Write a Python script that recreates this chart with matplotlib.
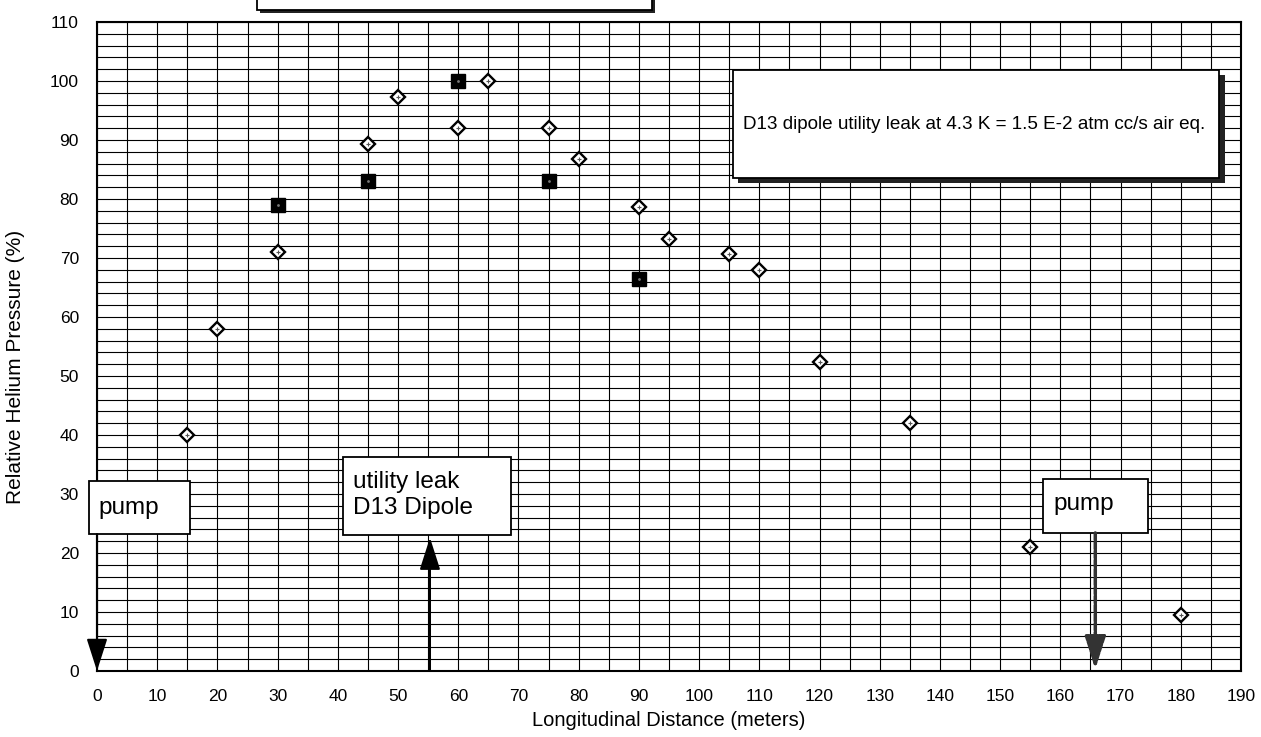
import matplotlib
matplotlib.use("Agg")
import matplotlib.pyplot as plt
import numpy as np
from matplotlib.patches import Rectangle

plt.rcParams['font.family'] = ['Liberation Sans', 'DejaVu Sans']

# ---- data ----
diamond_x = [15, 20, 30, 45, 50, 60, 65, 75, 80, 90, 95, 105, 110, 120, 135, 155, 180]
diamond_y = [40, 58, 71, 89.3, 97.3, 92, 100, 92, 86.7, 78.7, 73.3, 70.7, 68, 52.3, 42, 21, 9.5]
square_x = [30, 45, 60, 75, 90]
square_y = [79, 83, 100, 83, 66.5]

x_ticks = list(range(0, 191, 10))
y_ticks = list(range(0, 111, 10))
x_label = "Longitudinal Distance (meters)"
y_label = "Relative Helium Pressure (%)"
note_text = "D13 dipole utility leak at 4.3 K = 1.5 E-2 atm cc/s air eq."
pump_left_text = "pump"
pump_right_text = "pump"
leak_text = "utility leak\nD13 Dipole"

W, H = 1261, 737
fig = plt.figure(figsize=(W / 100, H / 100), dpi=100)
ax = fig.add_axes([97 / W, 1 - 671 / H, (1241 - 97) / W, (671 - 22) / H])

ax.set_xlim(0, 190)
ax.set_ylim(0, 110)
ax.set_xticks(x_ticks)
ax.set_yticks(y_ticks)
ax.set_xticks(np.arange(0, 191, 5), minor=True)
ax.set_yticks(np.arange(0, 111, 2), minor=True)
ax.grid(which='both', color='black', linewidth=0.8, zorder=0)
ax.set_axisbelow(True)
ax.tick_params(which='both', length=0)
ax.tick_params(which='major', labelsize=12.5, pad=13)
for s in ax.spines.values():
    s.set_linewidth(1.5)
    s.set_color('black')

ax.set_xlabel(x_label, fontsize=14.5, labelpad=5)
ax.set_ylabel(y_label, fontsize=15)
ax.yaxis.set_label_coords(-0.0625, 0.468)

# markers
ax.plot(diamond_x, diamond_y, linestyle='none', marker='D', markersize=7,
        markerfacecolor='white', markeredgecolor='black', markeredgewidth=1.7, zorder=5, clip_on=False)
ax.plot(diamond_x, diamond_y, linestyle='none', marker='+', markersize=3,
        color='#555555', markeredgewidth=0.8, zorder=6, clip_on=False)
ax.plot(square_x, square_y, linestyle='none', marker='s', markersize=9.5,
        markerfacecolor='black', markeredgecolor='black', zorder=5)
ax.plot(square_x, square_y, linestyle='none', marker='.', markersize=2,
        color='#777777', zorder=6)


def box_data(x0, y0, x1, y1, shadow=False):
    if shadow:
        ax.add_patch(Rectangle((x0 + 0.9, y0 - 0.9), x1 - x0, y1 - y0, facecolor='#222222',
                               edgecolor='none', zorder=7, clip_on=False))
    ax.add_patch(Rectangle((x0, y0), x1 - x0, y1 - y0, facecolor='white',
                           edgecolor='black', linewidth=1.3, zorder=8, clip_on=False))


arrow_style = '-|>,head_length=1.0,head_width=0.32'

# left pump
box_data(-1.3, 23.2, 15.4, 32.2)
ax.text(0.2, 27.6, pump_left_text, fontsize=17.5, ha='left', va='center', zorder=9)
ax.annotate('', xy=(0, 0), xytext=(0, 23.2), annotation_clip=False,
            arrowprops=dict(arrowstyle=arrow_style, mutation_scale=20,
                            color='black', lw=1.5, shrinkA=0, shrinkB=0), zorder=9)

# utility leak
box_data(40.9, 23.1, 68.8, 36.3)
ax.text(42.5, 29.8, leak_text, fontsize=17.5, ha='left', va='center', linespacing=1.22, zorder=9)
ax.annotate('', xy=(55.3, 22.6), xytext=(55.3, 0), annotation_clip=False,
            arrowprops=dict(arrowstyle=arrow_style, mutation_scale=20,
                            color='black', lw=1.5, shrinkA=0, shrinkB=0), zorder=9)

# right pump
box_data(157.1, 23.4, 174.6, 32.5)
ax.text(158.9, 28.3, pump_right_text, fontsize=17.5, ha='left', va='center', zorder=9)
ax.annotate('', xy=(165.8, 0.3), xytext=(165.8, 23.4), annotation_clip=False,
            arrowprops=dict(arrowstyle=arrow_style, mutation_scale=20,
                            color='#333333', lw=2.5, shrinkA=0, shrinkB=0, linestyle=(0, (2, 0.6))), zorder=9)

# note box
box_data(105.6, 83.6, 186.4, 101.9, shadow=True)
ax.text(107.3, 92.6, note_text, fontsize=13.6, ha='left', va='center', zorder=9)

# top cut-off box (figure pixel coords)
fig.patches.append(Rectangle((260 / W, 1 - 12.5 / H), (655 - 260) / W, 40 / H, transform=fig.transFigure,
                             facecolor='#222222', edgecolor='none', zorder=7))
fig.patches.append(Rectangle((257 / W, 1 - 10 / H), (652 - 257) / W, 40 / H, transform=fig.transFigure,
                             facecolor='white', edgecolor='black', linewidth=1.3, zorder=8))

fig.savefig('out.png', dpi=100)
